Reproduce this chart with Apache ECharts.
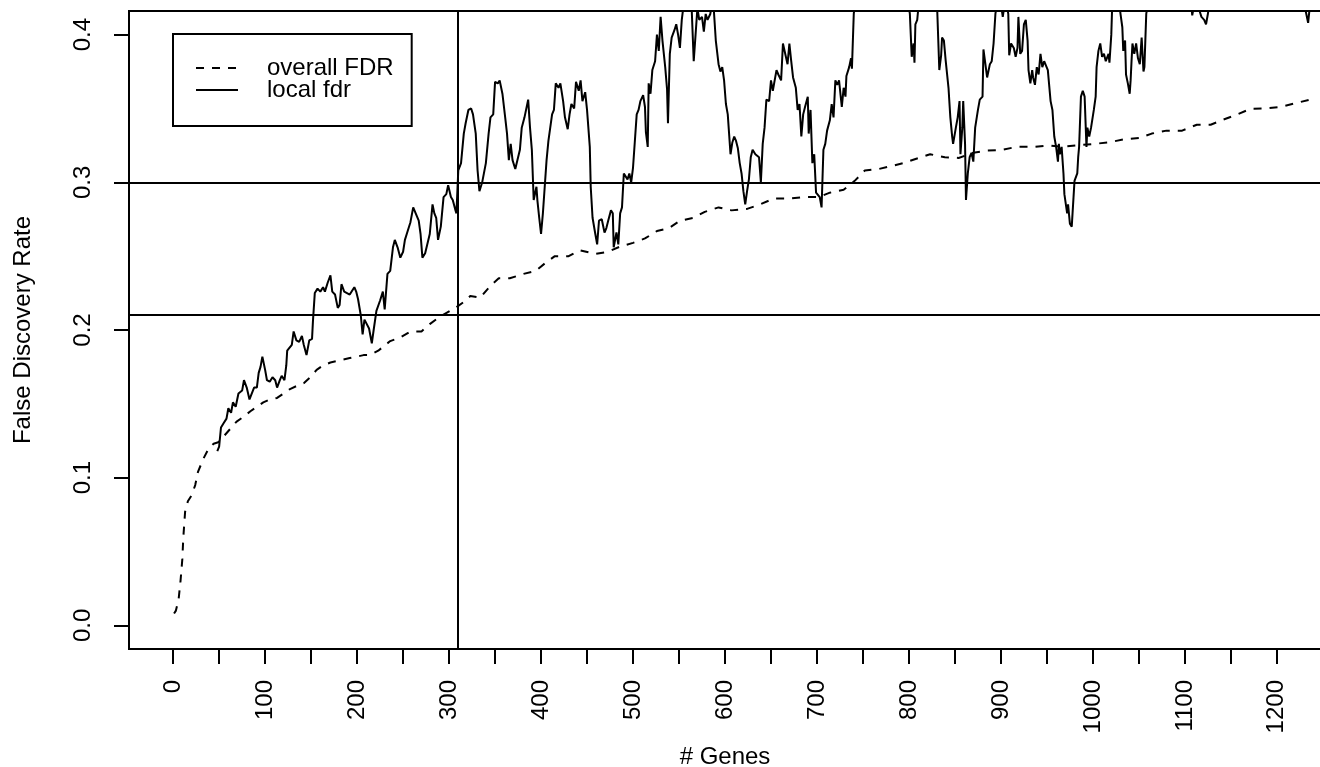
<!DOCTYPE html>
<html>
<head>
<meta charset="utf-8">
<title>False Discovery Rate</title>
<script src="https://cdn.jsdelivr.net/npm/echarts@6/dist/echarts.min.js"></script>
<style>
  html, body { margin: 0; padding: 0; background: #fff; }
  #chart { width: 1320px; height: 767px; }
</style>
</head>
<body>
<div id="chart"></div>
<script>
// overall FDR (dashed)
const fdrGenes = [1, 3, 6, 8, 10, 11, 13, 16, 20, 24, 27, 33, 38, 44, 49, 55, 62, 69, 76, 84,
  91, 98, 105, 113, 120, 127, 134, 142, 149, 156, 163, 171, 178, 185, 192, 200, 207, 214, 223, 236,
  247, 258, 270, 279, 290, 301, 308, 316, 323, 334, 345, 354, 366, 381, 394, 404, 415, 430, 442, 459,
  473, 486, 500, 513, 526, 539, 551, 566, 578, 593, 607, 624, 638, 653, 669, 685, 702, 714, 729, 741,
  752, 767, 781, 794, 808, 823, 839, 854, 870, 885, 901, 917, 935, 952, 966, 983, 1001, 1017, 1033, 1050,
  1064, 1080, 1097, 1113, 1128, 1142, 1157, 1171, 1187, 1204, 1220, 1236, 1240];
const fdrValues = [0.008, 0.010, 0.018, 0.030, 0.045, 0.059, 0.077, 0.084, 0.088, 0.095, 0.104, 0.113, 0.119, 0.123, 0.124, 0.128, 0.133, 0.138, 0.141, 0.145,
  0.148, 0.151, 0.153, 0.154, 0.157, 0.160, 0.162, 0.164, 0.168, 0.173, 0.176, 0.178, 0.179, 0.180, 0.181, 0.182, 0.183, 0.183, 0.186, 0.1925,
  0.195, 0.199, 0.199, 0.204, 0.209, 0.213, 0.2155, 0.219, 0.223, 0.222, 0.230, 0.235, 0.235, 0.238, 0.240, 0.245, 0.250, 0.250, 0.254, 0.2515,
  0.253, 0.2565, 0.259, 0.262, 0.267, 0.269, 0.274, 0.276, 0.280, 0.283, 0.281, 0.282, 0.285, 0.289, 0.289, 0.290, 0.290, 0.293, 0.295, 0.301,
  0.308, 0.309, 0.311, 0.313, 0.316, 0.319, 0.317, 0.3165, 0.320, 0.3215, 0.322, 0.324, 0.324, 0.325, 0.324, 0.325, 0.326, 0.327, 0.329, 0.330,
  0.333, 0.335, 0.335, 0.339, 0.339, 0.3425, 0.346, 0.3497, 0.350, 0.351, 0.3535, 0.356, 0.357];

// local fdr (solid); values above the frame are clipped
const localGenes = [48, 50, 52, 55, 58, 60, 63, 65, 68, 71, 75, 77, 80, 83, 85, 88, 91, 93, 95, 97,
  100, 102, 105, 108, 111, 113, 116, 118, 121, 123, 124, 126, 129, 131, 134, 137, 140, 142, 145, 148,
  151, 152, 154, 157, 160, 163, 165, 168, 171, 173, 176, 179, 181, 183, 186, 189, 192, 194, 197, 199,
  201, 204, 206, 208, 210, 213, 216, 218, 221, 225, 228, 230, 233, 236, 239, 241, 244, 247, 250, 252,
  255, 258, 261, 263, 267, 269, 271, 274, 276, 279, 282, 284, 286, 288, 291, 294, 297, 299, 302, 304,
  307, 308, 310, 313, 316, 318, 321, 324, 326, 329, 331, 333, 336, 338, 340, 343, 345, 348, 350, 353,
  355, 358, 361, 363, 365, 367, 369, 372, 374, 377, 379, 382, 384, 386, 388, 390, 392, 395, 396, 398,
  400, 402, 404, 406, 408, 410, 412, 414, 416, 419, 421, 424, 426, 429, 431, 433, 436, 438, 441, 443,
  445, 448, 450, 453, 454, 456, 459, 461, 463, 466, 469, 471, 473, 476, 478, 479, 482, 484, 486, 488,
  490, 492, 494, 496, 498, 500, 502, 504, 506, 508, 511, 513, 514, 516, 517, 519, 521, 524, 526, 528,
  530, 532, 535, 537, 538, 540, 542, 545, 547, 549, 551, 553, 556, 560, 563, 566, 568, 570, 572, 575,
  577, 579, 581, 584, 587, 590, 593, 595, 597, 599, 601, 603, 606, 608, 610, 612, 614, 616, 618, 620,
  622, 624, 626, 628, 630, 633, 635, 637, 639, 641, 643, 645, 648, 650, 652, 654, 656, 658, 661, 663,
  665, 668, 670, 672, 674, 677, 679, 681, 683, 685, 687, 690, 691, 693, 695, 697, 699, 701, 703, 705,
  707, 709, 711, 714, 716, 718, 720, 722, 724, 727, 729, 731, 732, 735, 737, 738, 740, 745, 760, 780,
  795, 801, 803, 805, 806, 807, 809, 812, 820, 830, 833, 835, 836, 838, 840, 843, 845, 847, 848, 851,
  853, 855, 856, 858, 859, 861, 862, 864, 866, 868, 870, 872, 875, 877, 880, 881, 883, 885, 888, 890,
  892, 894, 898, 902, 905, 908, 909, 911, 914, 916, 918, 919, 921, 923, 925, 927, 929, 930, 932, 934,
  935, 937, 939, 941, 943, 945, 947, 949, 951, 954, 956, 958, 960, 962, 963, 964, 966, 968, 969, 972,
  973, 975, 977, 979, 980, 983, 984, 985, 987, 989, 991, 993, 994, 996, 998, 1001, 1003, 1004, 1006, 1008,
  1010, 1012, 1014, 1017, 1018, 1020, 1021, 1025, 1030, 1032, 1033, 1035, 1036, 1038, 1040, 1041, 1042, 1043, 1045, 1047,
  1049, 1051, 1053, 1055, 1056, 1058, 1065, 1085, 1100, 1107, 1108, 1110, 1116, 1118, 1121, 1123, 1125, 1128, 1160, 1200,
  1230, 1234, 1236, 1248];
const localValues = [0.118, 0.121, 0.134, 0.137, 0.140, 0.147, 0.144, 0.151, 0.148, 0.157, 0.159, 0.166, 0.161, 0.153, 0.154, 0.161, 0.161, 0.171, 0.175, 0.182,
  0.173, 0.166, 0.165, 0.168, 0.166, 0.161, 0.166, 0.169, 0.166, 0.176, 0.186, 0.185, 0.190, 0.199, 0.193, 0.192, 0.196, 0.190, 0.183, 0.193,
  0.194, 0.206, 0.225, 0.228, 0.226, 0.229, 0.226, 0.232, 0.237, 0.226, 0.224, 0.215, 0.217, 0.231, 0.226, 0.225, 0.224, 0.225, 0.229, 0.226,
  0.221, 0.210, 0.197, 0.207, 0.206, 0.201, 0.191, 0.200, 0.213, 0.220, 0.226, 0.214, 0.238, 0.240, 0.256, 0.261, 0.256, 0.249, 0.253, 0.261,
  0.267, 0.273, 0.283, 0.283, 0.274, 0.265, 0.249, 0.252, 0.252, 0.265, 0.285, 0.279, 0.276, 0.261, 0.270, 0.290, 0.292, 0.298, 0.290, 0.288,
  0.281, 0.279, 0.308, 0.313, 0.333, 0.340, 0.349, 0.350, 0.346, 0.333, 0.308, 0.294, 0.300, 0.300, 0.313, 0.333, 0.344, 0.346, 0.368, 0.367,
  0.369, 0.360, 0.344, 0.333, 0.315, 0.326, 0.315, 0.309, 0.308, 0.322, 0.337, 0.344, 0.344, 0.356, 0.337, 0.322, 0.288, 0.297, 0.288, 0.276,
  0.265, 0.279, 0.297, 0.315, 0.328, 0.337, 0.346, 0.349, 0.367, 0.364, 0.367, 0.355, 0.344, 0.336, 0.346, 0.353, 0.350, 0.368, 0.362, 0.369,
  0.355, 0.361, 0.349, 0.324, 0.297, 0.276, 0.265, 0.258, 0.274, 0.275, 0.266, 0.269, 0.274, 0.281, 0.279, 0.256, 0.266, 0.258, 0.279, 0.283,
  0.306, 0.307, 0.302, 0.306, 0.300, 0.310, 0.328, 0.346, 0.349, 0.355, 0.359, 0.351, 0.334, 0.324, 0.367, 0.360, 0.376, 0.382, 0.400, 0.389,
  0.412, 0.396, 0.378, 0.363, 0.340, 0.387, 0.398, 0.403, 0.407, 0.400, 0.391, 0.410, 0.425, 0.440, 0.430, 0.382, 0.400, 0.418, 0.410, 0.412,
  0.402, 0.414, 0.410, 0.414, 0.425, 0.396, 0.380, 0.375, 0.378, 0.369, 0.353, 0.346, 0.319, 0.327, 0.331, 0.328, 0.323, 0.313, 0.306, 0.294,
  0.285, 0.294, 0.302, 0.317, 0.322, 0.319, 0.319, 0.317, 0.300, 0.326, 0.337, 0.356, 0.355, 0.369, 0.362, 0.369, 0.376, 0.373, 0.369, 0.394,
  0.394, 0.380, 0.394, 0.382, 0.371, 0.364, 0.349, 0.353, 0.331, 0.346, 0.351, 0.358, 0.333, 0.349, 0.313, 0.319, 0.293, 0.292, 0.290, 0.283,
  0.322, 0.326, 0.335, 0.342, 0.353, 0.344, 0.369, 0.366, 0.369, 0.351, 0.364, 0.358, 0.372, 0.378, 0.384, 0.377, 0.414, 0.440, 0.460, 0.460,
  0.440, 0.414, 0.385, 0.394, 0.381, 0.407, 0.410, 0.430, 0.450, 0.430, 0.376, 0.386, 0.398, 0.396, 0.382, 0.364, 0.344, 0.331, 0.326, 0.337,
  0.344, 0.355, 0.319, 0.337, 0.355, 0.326, 0.288, 0.306, 0.317, 0.320, 0.314, 0.337, 0.349, 0.356, 0.358, 0.390, 0.389, 0.371, 0.380, 0.382,
  0.394, 0.414, 0.430, 0.412, 0.425, 0.414, 0.386, 0.394, 0.391, 0.385, 0.391, 0.412, 0.387, 0.389, 0.407, 0.410, 0.396, 0.376, 0.367, 0.376,
  0.371, 0.366, 0.378, 0.373, 0.387, 0.378, 0.382, 0.382, 0.376, 0.355, 0.349, 0.331, 0.324, 0.314, 0.326, 0.319, 0.324, 0.306, 0.292, 0.279,
  0.285, 0.272, 0.270, 0.270, 0.301, 0.306, 0.317, 0.324, 0.358, 0.362, 0.358, 0.324, 0.337, 0.331, 0.337, 0.349, 0.358, 0.378, 0.389, 0.394,
  0.385, 0.387, 0.382, 0.387, 0.381, 0.400, 0.420, 0.440, 0.414, 0.405, 0.389, 0.396, 0.373, 0.367, 0.360, 0.369, 0.382, 0.394, 0.387, 0.394,
  0.384, 0.380, 0.398, 0.375, 0.378, 0.414, 0.440, 0.460, 0.440, 0.420, 0.413, 0.420, 0.416, 0.412, 0.410, 0.407, 0.414, 0.425, 0.450, 0.450,
  0.420, 0.408, 0.420, 0.430];

// reference lines and axis ticks
const cutoffGene = 309;
const cutoffRates = [0.3, 0.2148];
const xTickValues = [0, 50, 100, 150, 200, 250, 300, 350, 400, 450, 500, 550, 600, 650, 700, 750, 800, 850, 900, 950, 1000, 1050, 1100, 1150, 1200];
const xLabelValues = [0, 100, 200, 300, 400, 500, 600, 700, 800, 900, 1000, 1100, 1200];
const yTickValues = [0, 0.1, 0.2, 0.3, 0.4];

const FONT = '"Liberation Sans", Arial, Helvetica, sans-serif';
const zip = (xs, ys) => xs.map((x, i) => [x, ys[i]]);

const chart = echarts.init(document.getElementById('chart'), null, { renderer: 'canvas' });

const option = {
  animation: false,
  backgroundColor: '#fff',
  textStyle: { fontFamily: FONT, color: '#000' },
  grid: {
    left: 129, top: 11, right: -1, bottom: 118,
    show: true, borderColor: '#000', borderWidth: 2,
    containLabel: false, outerBoundsMode: 'none'
  },
  legend: {
    orient: 'vertical',
    left: 173, top: 34,
    padding: [22, 18, 24, 22],
    itemWidth: 42, itemHeight: 22, itemGap: -2,
    borderColor: '#000', borderWidth: 2, borderRadius: 0,
    backgroundColor: '#fff',
    selectedMode: false,
    // hide the marker symbol that line series add to their legend icon
    itemStyle: { opacity: 0, color: 'transparent', borderWidth: 0 },
    textStyle: { fontFamily: FONT, fontSize: 24, color: '#000', lineHeight: 22, padding: [0, 0, 0, 24] },
    data: ['overall FDR', 'local fdr']
  },
  xAxis: {
    type: 'value',
    min: -48, max: 1248,
    name: '# Genes', nameLocation: 'middle', nameGap: 96, nameMoveOverlap: false,
    nameTextStyle: { fontFamily: FONT, fontSize: 24, color: '#000' },
    axisLine: { show: false, onZero: false },
    axisTick: { show: true, customValues: xTickValues, length: 15, lineStyle: { color: '#000', width: 2 } },
    axisLabel: {
      customValues: xLabelValues, rotate: 90, margin: 31,
      fontFamily: FONT, fontSize: 24, color: '#000',
      formatter: v => String(v)
    },
    splitLine: { show: false }
  },
  yAxis: {
    type: 'value',
    min: -0.016, max: 0.416,
    name: 'False Discovery Rate', nameLocation: 'middle', nameGap: 94, nameMoveOverlap: false,
    nameTextStyle: { fontFamily: FONT, fontSize: 24, color: '#000' },
    axisLine: { show: false, onZero: false },
    axisTick: { show: true, customValues: yTickValues, length: 15, lineStyle: { color: '#000', width: 2 } },
    axisLabel: {
      customValues: yTickValues, rotate: 90, margin: 34,
      fontFamily: FONT, fontSize: 24, color: '#000',
      formatter: v => v.toFixed(1)
    },
    splitLine: { show: false }
  },
  series: [
    {
      name: 'overall FDR',
      type: 'line',
      data: zip(fdrGenes, fdrValues),
      symbol: 'none', showSymbol: false,
      clip: true,
      itemStyle: { color: '#000' },
      lineStyle: { color: '#000', width: 2, type: [8, 8] }
    },
    {
      name: 'local fdr',
      type: 'line',
      data: zip(localGenes, localValues),
      symbol: 'none', showSymbol: false,
      clip: true,
      itemStyle: { color: '#000' },
      lineStyle: { color: '#000', width: 2, type: 'solid' },
      markLine: {
        silent: true,
        symbol: 'none',
        label: { show: false },
        lineStyle: { color: '#000', width: 2, type: 'solid' },
        data: [
          { yAxis: cutoffRates[0] },
          { yAxis: cutoffRates[1] },
          { xAxis: cutoffGene }
        ]
      }
    }
  ]
};

chart.setOption(option);
</script>
</body>
</html>
